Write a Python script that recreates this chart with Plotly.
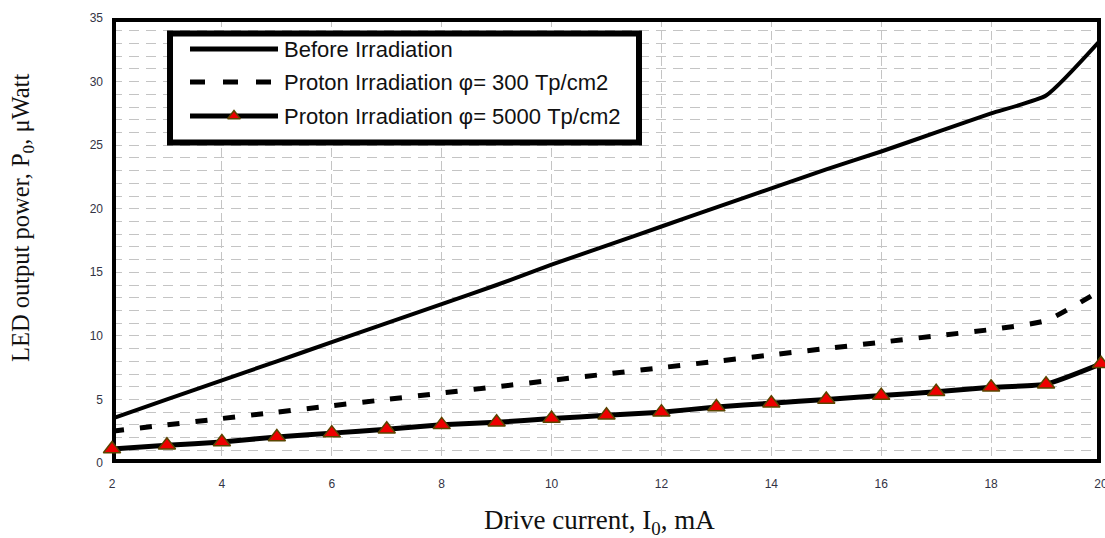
import plotly.graph_objects as go

current = [2, 3, 4, 5, 6, 7, 8, 9, 10, 11, 12, 13, 14, 15, 16, 17, 18, 19, 20]
before = [3.5, 5.0, 6.5, 8.0, 9.5, 11.0, 12.5, 14.0, 15.6, 17.1, 18.6, 20.1,
          21.6, 23.1, 24.5, 26.0, 27.5, 28.9, 33.3]
p300 = [2.5, 3.0, 3.5, 4.0, 4.5, 5.0, 5.5, 6.0, 6.5, 7.0, 7.5, 8.0, 8.5,
        9.0, 9.5, 10.0, 10.5, 11.2, 13.6]
p5000 = [1.1, 1.4, 1.65, 2.05, 2.35, 2.65, 3.0, 3.2, 3.5, 3.75, 4.0, 4.4,
         4.7, 5.0, 5.3, 5.6, 5.95, 6.2, 7.8]

names = ["Before Irradiation",
         "Proton Irradiation \u03c6= 300 Tp/cm2",
         "Proton Irradiation \u03c6= 5000 Tp/cm2"]
x_ticks = [2, 4, 6, 8, 10, 12, 14, 16, 18, 20]
y_ticks = [0, 5, 10, 15, 20, 25, 30, 35]
x_range = [2, 20]
y_range = [0, 35]

L, R, T, B = 112, 4, 18, 75
W, H = 1105, 538
PW, PH = W - L - R, H - T - B


def px(x):
    return (x - L) / PW


def py(y):
    return (H - B - y) / PH


def dx(x):
    return x_range[0] + px(x) * (x_range[1] - x_range[0])


def dy(y):
    return y_range[0] + py(y) * (y_range[1] - y_range[0])


marker_style = dict(symbol="triangle-up", size=15, color="#ee0000",
                    line=dict(color="#5a4500", width=1.5))

fig = go.Figure()
fig.add_trace(go.Scatter(x=current, y=before, mode="lines", name=names[0],
                         line=dict(color="black", width=4, shape="spline", smoothing=0.5),
                         showlegend=False))
fig.add_trace(go.Scatter(x=current, y=p300, mode="lines", name=names[1],
                         line=dict(color="black", width=5, dash="12px,16px",
                                   shape="spline", smoothing=0.5),
                         showlegend=False))
fig.add_trace(go.Scatter(x=current, y=p5000, mode="lines+markers", name=names[2],
                         line=dict(color="black", width=5, shape="spline", smoothing=0.5),
                         marker=marker_style, cliponaxis=False, showlegend=False))

# custom legend samples on an overlay axis in plot-area fractions
rows = [py(49), py(82), py(116)]
lx0, lx1 = px(190), px(278)
fig.add_trace(go.Scatter(x=[lx0, lx1], y=[rows[0], rows[0]], mode="lines",
                         line=dict(color="black", width=5), xaxis="x2", yaxis="y2",
                         showlegend=False, hoverinfo="skip"))
fig.add_trace(go.Scatter(x=[lx0, lx1], y=[rows[1], rows[1]], mode="lines",
                         line=dict(color="black", width=5, dash="15px,18px"),
                         xaxis="x2", yaxis="y2", showlegend=False, hoverinfo="skip"))
fig.add_trace(go.Scatter(x=[lx0, lx1], y=[rows[2], rows[2]], mode="lines",
                         line=dict(color="black", width=5), xaxis="x2", yaxis="y2",
                         showlegend=False, hoverinfo="skip"))
fig.add_trace(go.Scatter(x=[(lx0 + lx1) / 2], y=[rows[2]], mode="markers",
                         marker=dict(symbol="triangle-up", size=11, color="#ee0000",
                                     line=dict(color="#5a4500", width=1.5)),
                         xaxis="x2", yaxis="y2", showlegend=False, hoverinfo="skip"))

shapes = [
    dict(type="rect", xref="x", yref="y", x0=x_range[0], x1=x_range[1],
         y0=y_range[0], y1=y_range[1],
         line=dict(color="black", width=8), layer="between"),
    dict(type="rect", xref="x", yref="y", x0=dx(170), x1=dx(639),
         y0=dy(142.5), y1=dy(33.5), line=dict(color="black", width=6),
         fillcolor="white", layer="between"),
]

annotations = []
for n, r in zip(names, rows):
    annotations.append(dict(x=px(282), y=r, xref="paper", yref="paper", text=n,
                            showarrow=False, xanchor="left", yanchor="middle",
                            font=dict(family="Liberation Sans, Arial", size=22, color="#111")))
annotations.append(dict(x=px(599), y=0, xref="paper", yref="paper",
                        text="Drive current, I<sub>0</sub>, mA", showarrow=False,
                        xanchor="center", yanchor="middle", yshift=-59,
                        font=dict(family="Liberation Serif, Times New Roman", size=27, color="#111")))
annotations.append(dict(x=px(22), y=py(218), xref="paper", yref="paper",
                        text="LED output power, P<sub>0</sub>, \u03bcWatt", showarrow=False,
                        xanchor="center", yanchor="middle", textangle=-90,
                        font=dict(family="Liberation Serif, Times New Roman", size=24.5, color="#111")))

grid_col = "#c4c4c4"
fig.update_layout(
    width=W, height=H,
    margin=dict(l=L, r=R, t=T, b=B, autoexpand=False),
    paper_bgcolor="white", plot_bgcolor="white",
    shapes=shapes, annotations=annotations,
    xaxis=dict(range=x_range, tickvals=x_ticks, ticktext=[str(v) for v in x_ticks],
               showgrid=True, gridcolor=grid_col, griddash="9px,4px", gridwidth=1,
               zeroline=False, showline=False, ticks="", ticklabelstandoff=12,
               ticklabeloverflow="allow", automargin=False,
               tickfont=dict(family="Liberation Sans, Arial", size=12, color="#333344")),
    yaxis=dict(range=y_range, tickvals=y_ticks, ticktext=[str(v) for v in y_ticks],
               showgrid=True, gridcolor=grid_col, griddash="10px,7px", gridwidth=1,
               minor=dict(dtick=1, showgrid=True, gridcolor=grid_col, griddash="10px,7px",
                          gridwidth=1),
               zeroline=False, showline=False, ticks="", ticklabelstandoff=8,
               ticklabeloverflow="allow", automargin=False,
               tickfont=dict(family="Liberation Sans, Arial", size=12, color="#333344")),
    xaxis2=dict(range=[0, 1], overlaying="x", visible=False, fixedrange=True),
    yaxis2=dict(range=[0, 1], overlaying="y", visible=False, fixedrange=True),
)

fig.write_html("out.html")
